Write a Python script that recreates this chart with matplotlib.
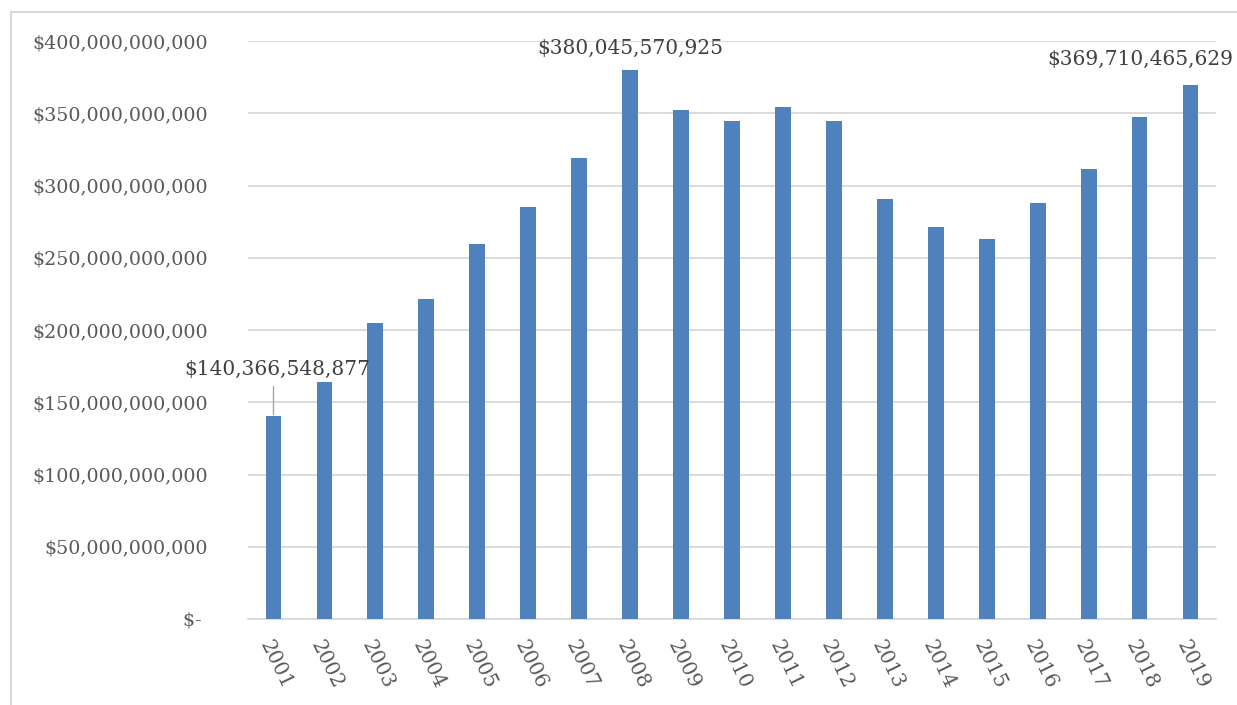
"""
Annual totals 2001-2019 as a bar chart with three value callouts.
"""
import matplotlib.pyplot as plt
from matplotlib.patches import Rectangle
from matplotlib.ticker import FuncFormatter

years = [str(y) for y in range(2001, 2020)]
values = [140366548877, 164.0e9, 204.5e9, 221.3e9, 259.5e9, 285.2e9, 319.2e9,
          380045570925, 352.0e9, 344.8e9, 354.0e9, 344.5e9, 290.6e9, 271.4e9,
          263.2e9, 288.2e9, 311.4e9, 347.2e9, 369710465629]
labelled = {"2001": 140366548877, "2008": 380045570925, "2019": 369710465629}

BAR = "#4F81BD"
GRID = "#D9D9D9"
TXT = "#595959"

plt.rcParams["font.family"] = ["DejaVu Serif"]

fig = plt.figure(figsize=(12.37, 7.05), dpi=100)
ax = fig.add_axes([248 / 1237, 1 - 619 / 705, (1216 - 248) / 1237, (619 - 41) / 705])

# cropped chart-area border (only top and left edges are visible)
fig.patches.append(Rectangle((11 / 1237, -0.1), 1.2, 1 - 12 / 705 + 0.1,
                             transform=fig.transFigure, fill=False,
                             edgecolor=GRID, lw=1.5))

x = range(len(years))
ax.bar(x, values, width=0.31, color=BAR, zorder=3)

ax.set_xlim(-0.5, len(years) - 0.5)
ax.set_ylim(0, 400e9)
ax.set_yticks([i * 50e9 for i in range(9)])


def money(v, pos):
    if v == 0:
        return "$- "
    return "${:,.0f}".format(v)


ax.yaxis.set_major_formatter(FuncFormatter(money))
ax.grid(axis="y", color=GRID, lw=1.3, zorder=0)
for s in ["top", "right", "left"]:
    ax.spines[s].set_visible(False)
ax.spines["bottom"].set_color(GRID)
ax.spines["bottom"].set_linewidth(1.3)
ax.tick_params(axis="both", length=0, colors=TXT)
ax.tick_params(axis="y", pad=29, labelsize=13.7)
ax.set_xticks(list(x))
ax.set_xticklabels(years, rotation=-64, ha="left", va="top", rotation_mode="anchor")
ax.tick_params(axis="x", pad=13, labelsize=14.5)

# data callouts
i08 = years.index("2008")
ax.text(i08, labelled["2008"] + 8e9, "${:,.0f}".format(labelled["2008"]),
        ha="center", va="bottom", fontsize=14.5, color="#404040")
i19 = years.index("2019")
ax.text(i19 + 0.84, labelled["2019"] + 11e9, "${:,.0f}".format(labelled["2019"]),
        ha="right", va="bottom", fontsize=14.5, color="#404040")
i01 = years.index("2001")
ax.plot([i01, i01], [labelled["2001"] + 1.5e9, 161e9], color="#A6A6A6", lw=1, zorder=4)
ax.text(i01 + 0.08, 166e9, "${:,.0f}".format(labelled["2001"]),
        ha="center", va="bottom", fontsize=14.5, color="#404040")

fig.savefig("out.png", dpi=100)
